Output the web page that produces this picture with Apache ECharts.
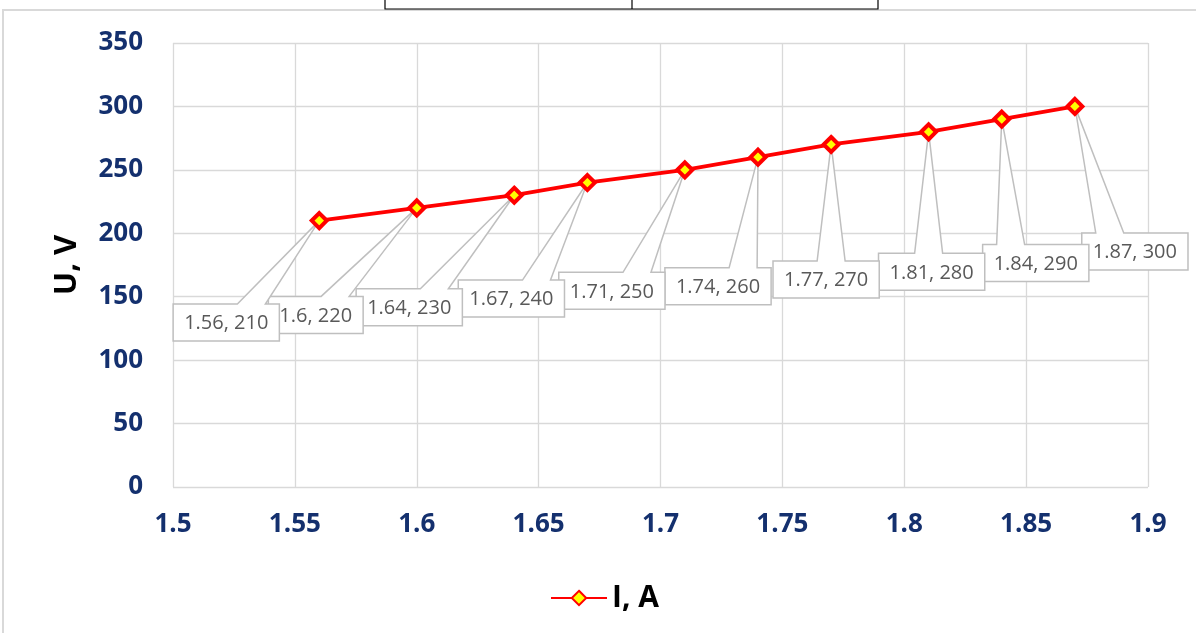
<!DOCTYPE html>
<html>
<head>
<meta charset="utf-8">
<script src="https://cdn.jsdelivr.net/npm/echarts@6/dist/echarts.min.js"></script>
<style>
html,body{margin:0;padding:0;background:#fff;}
#chart{width:1196px;height:633px;}
</style>
</head>
<body>
<div id="chart"></div>
<script>
// ---- data ----
const seriesName = 'I, A';
const xValues = [1.56, 1.6, 1.64, 1.67, 1.71, 1.74, 1.77, 1.81, 1.84, 1.87];
const yValues = [210, 220, 230, 240, 250, 260, 270, 280, 290, 300];
const yAxisName = 'U, V';
// callout label offsets (box centre relative to its point, px)
const labelOffsets = [[-93,102],[-101,107],[-105,112],[-76,116],[-73,121],[-40,129],[-5,135],[3,140],[34,144],[60,145]];

const points = xValues.map((x, i) => [x, yValues[i]]);

const measureCtx = document.createElement('canvas').getContext('2d');
const labelFontSize = 20;
function textW(t){ measureCtx.font = labelFontSize + 'px "Open Sans"'; return measureCtx.measureText(t).width; }

function renderCallout(params, api) {
  const i = params.dataIndex;
  const p = api.coord([api.value(0), api.value(1)]);
  const txt = api.value(0) + ', ' + api.value(1);
  const w = textW(txt) + 22, h = 37;
  const cx = p[0] + labelOffsets[i][0], cy = p[1] + labelOffsets[i][1];
  const l = cx - w / 2, r = cx + w / 2, t = cy - h / 2, b = cy + h / 2;
  const bc = Math.min(Math.max(p[0], l + 28), r - 28);
  const pts = [[l, t], [bc - 14, t], [p[0], p[1]], [bc + 14, t], [r, t], [r, b], [l, b]];
  return {
    type: 'group',
    children: [
      { type: 'polygon', shape: { points: pts }, style: { fill: '#ffffff', stroke: '#BFBFBF', lineWidth: 1.5 }, z2: 100 - i * 2 },
      { type: 'text', style: { x: cx, y: cy + 1, text: txt, fill: '#595959', fontSize: labelFontSize, fontFamily: 'Open Sans', align: 'center', verticalAlign: 'middle' }, z2: 101 - i * 2 }
    ]
  };
}

const chart = echarts.init(document.getElementById('chart'));
const tickColor = '#14306E';
chart.setOption({
  animation: false,
  backgroundColor: '#ffffff',
  graphic: [
    { type: 'rect', shape: { x: 3, y: 10, width: 1300, height: 700 }, style: { fill: 'none', stroke: '#D9D9D9', lineWidth: 2 }, z: -10 },
    { type: 'rect', shape: { x: 385, y: -5, width: 493, height: 14 }, style: { fill: 'none', stroke: '#000', lineWidth: 1.2 }, z: -10 },
    { type: 'line', shape: { x1: 632, y1: 0, x2: 632, y2: 9 }, style: { stroke: '#000', lineWidth: 1.2 }, z: -10 }
  ],
  grid: { left: 173, right: 48, top: 43, bottom: 146 },
  legend: {
    data: [seriesName],
    left: 545, top: 578,
    itemWidth: 56, itemHeight: 18, itemGap: 6,
    textStyle: { fontSize: 30, fontWeight: 'bold', color: '#000', fontFamily: 'Open Sans' }
  },
  xAxis: {
    type: 'value', min: 1.5, max: 1.9, interval: 0.05,
    axisLine: { show: false }, axisTick: { show: false },
    splitLine: { show: true, lineStyle: { color: '#D9D9D9', width: 1.3 } },
    axisLabel: { color: tickColor, fontSize: 26, fontWeight: 'bold', fontFamily: 'Open Sans', margin: 25 }
  },
  yAxis: {
    type: 'value', min: 0, max: 350, interval: 50,
    name: yAxisName, nameLocation: 'middle', nameGap: 90,
    nameTextStyle: { fontSize: 31, fontWeight: 'bold', color: '#000', fontFamily: 'Open Sans' },
    axisLine: { show: false }, axisTick: { show: false },
    splitLine: { show: true, lineStyle: { color: '#D9D9D9', width: 1.3 } },
    axisLabel: { color: tickColor, fontSize: 26, fontWeight: 'bold', fontFamily: 'Open Sans', margin: 30 }
  },
  series: [
    {
      name: 'callouts', type: 'custom', data: points, renderItem: renderCallout, z: 2, clip: false, silent: true
    },
    {
      name: seriesName, type: 'line', data: points, z: 3,
      symbol: 'diamond', symbolSize: 15,
      lineStyle: { color: '#FF0000', width: 3.8 },
      itemStyle: { color: '#FFFF00', borderColor: '#FF0000', borderWidth: 4 }
    }
  ]
});
</script>
</body>
</html>
